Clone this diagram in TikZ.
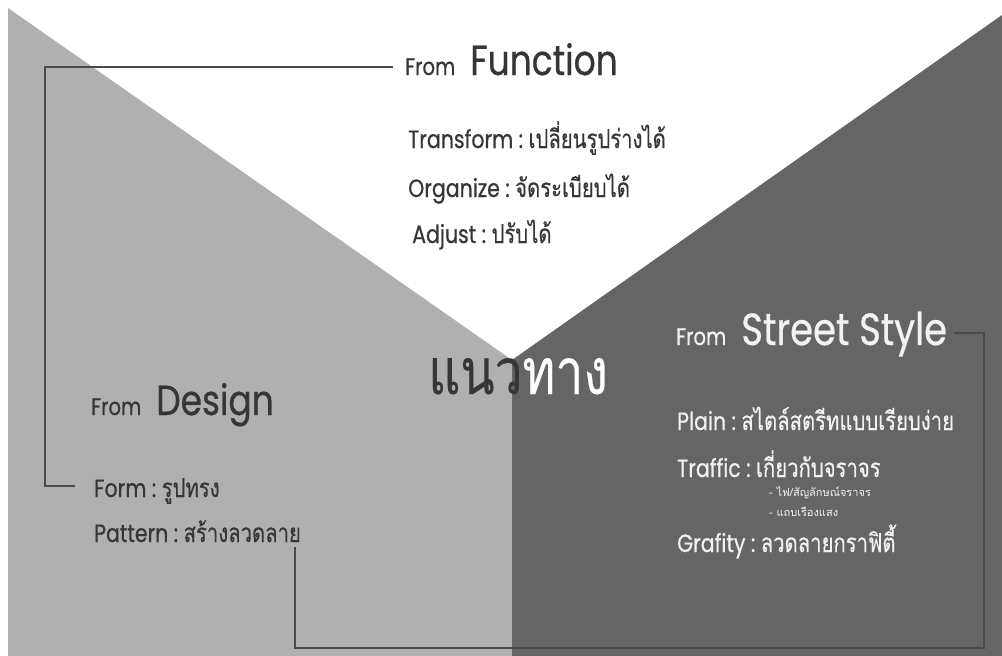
\documentclass[tikz,border=0pt]{standalone}
\usepackage{fontspec}
\setmainfont{Poppins}[FakeStretch=0.82,FakeBold=0.6]
\newfontfamily\thai[Script=Thai,FakeStretch=0.78,FakeBold=0.3]{Loma}
\newfontfamily\thaismall[Script=Thai]{Loma}
\usetikzlibrary{calc}
\definecolor{lightg}{HTML}{B0B0B0}
\definecolor{darkg}{HTML}{656565}
\definecolor{txtd}{HTML}{363636}
\definecolor{txtw}{HTML}{F2F2F2}
\definecolor{linec}{HTML}{4A4A4A}
\newcommand{\fs}[1]{\fontsize{#1}{#1}\selectfont}
\begin{document}
\begin{tikzpicture}[x=1pt,y=-1pt,
  lbl/.style={inner sep=0pt,anchor=base west},
  title/.style={lbl,font=\fs{24}},
  item/.style={lbl,font=\fs{25}},
  small/.style={lbl,font=\thaismall\fs{11}},
  conn/.style={draw=linec,line width=2.2pt}]
\useasboundingbox (0,0) rectangle (1002,656);
\fill[white] (0,0) rectangle (1002,656);
\fill[lightg] (8,8) -- (512,360) -- (512,656) -- (8,656) -- cycle;
\fill[darkg] (512,360) -- (1002,15) -- (1002,656) -- (512,656) -- cycle;

% From Function
\node[title,text=txtd] (fnc) at (405,75) {From\hspace{15pt}{\fs{42}Function}};
\node[item,text=txtd] (tr) at (408,148) {Transform\ :\ {\thai\fs{26}เปลี่ยนรูปร่างได้}};
\node[item,text=txtd] (org) at (408,197) {Organize\ :\ {\thai\fs{26}จัดระเบียบได้}};
\node[item,text=txtd] (adj) at (412,243) {Adjust\ :\ {\thai\fs{26}ปรับได้}};

% centre
\node[lbl,font=\thai\fs{64}] (nt) at (428,394) {\textcolor{txtd}{แนว}\textcolor{white}{ทาง}};

% From Street Style
\node[title,text=txtw] (st) at (676,345) {From\hspace{15pt}{\fs{45}Street Style}};
\node[item,text=txtw] (pl) at (677,430) {Plain\ :\ {\thai\fs{26}สไตล์สตรีทแบบเรียบง่าย}};
\node[item,text=txtw] (tf) at (677,477) {Traffic\ :\ {\thai\fs{26}เกี่ยวกับจราจร}};
\node[small,text=txtw] (s1) at (769,496) {- ไฟ/สัญลักษณ์จราจร};
\node[small,text=txtw] (s2) at (769,516) {- แถบเรืองแสง};
\node[item,text=txtw] (gr) at (677,552) {Grafity\ :\ {\thai\fs{26}ลวดลายกราฟิตี้}};

% From Design
\node[title,text=txtd] (ds) at (91,415) {From\hspace{15pt}{\fs{42}Design}};
\node[item,text=txtd] (fm) at (94,497) {Form\ :\ {\thai\fs{26}รูปทรง}};
\node[item,text=txtd] (pt) at (94,542) {Pattern\ :\ {\thai\fs{26}สร้างลวดลาย}};

% connectors
\coordinate (tl) at (45,67);
\coordinate (pv) at (295,648);
\coordinate (br) at (984,648);
\draw[conn] ($(fnc.base west)+(-12,-8)$) -- (tl) |- ($(fm.base west)+(-19,-11)$);
\draw[conn] (pv |- {$(pt.base)+(0,5)$}) -- (pv) -- (br) |- ($(st.base east)+(7,-12)$);
\end{tikzpicture}
\end{document}
